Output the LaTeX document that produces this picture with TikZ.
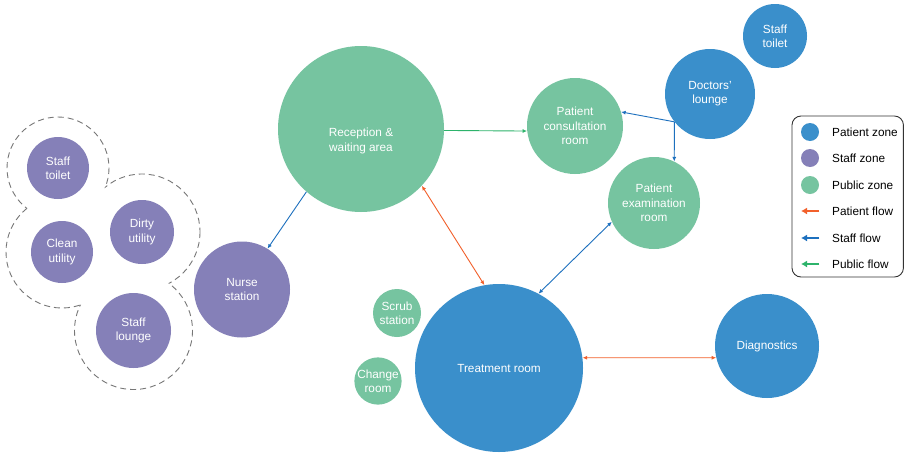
\documentclass[tikz,border=0pt]{standalone}
\usepackage{fontspec}
\setmainfont{Liberation Sans}
\usetikzlibrary{arrows.meta}
\definecolor{pzone}{HTML}{3A8FCB}
\definecolor{szone}{HTML}{8580B8}
\definecolor{uzone}{HTML}{76C4A0}
\definecolor{pflow}{HTML}{F2602B}
\definecolor{sflow}{HTML}{1D70BE}
\definecolor{uflow}{HTML}{2DB36B}
\definecolor{dashgray}{HTML}{777777}
\tikzset{
  room/.style={circle, inner sep=0pt, text=white, align=center, font=\fontsize{11.8}{14.3}\selectfont},
  pat/.style={room, fill=pzone},
  stf/.style={room, fill=szone},
  pub/.style={room, fill=uzone},
  flow/.style={line width=0.9pt},
  patflow/.style={flow, draw=pflow, {Latex[length=4.5pt,width=4pt]}-{Latex[length=4.5pt,width=4pt]}},
  staflow/.style={flow, draw=sflow, -{Latex[length=4.5pt,width=4pt]}},
  staflowb/.style={flow, draw=sflow, {Latex[length=4.5pt,width=4pt]}-{Latex[length=4.5pt,width=4pt]}},
  pubflow/.style={flow, draw=uflow, -{Latex[length=4.5pt,width=4pt]}},
  zoneline/.style={draw=dashgray, line width=0.9pt, dash pattern=on 6pt off 4pt},
  legtext/.style={anchor=west, inner sep=0pt, font=\fontsize{11.8}{14}\selectfont},
  legdot/.style={circle, inner sep=0pt, minimum size=18pt},
  legarrow/.style={line width=2pt, -{Latex[length=6pt,width=7pt]}},
}
\begin{document}
\begin{tikzpicture}[x=1pt,y=-1pt]
\useasboundingbox (0,0) rectangle (904,453);
\fill[white] (0,0) rectangle (904,453);

% dashed staff zone outline (union of four circles)
\begin{scope}[even odd rule]
  \clip (-10,-10) rectangle (920,470) (62,252) circle (56);
  \clip (-10,-10) rectangle (920,470) (142,232) circle (58);
  \clip (-10,-10) rectangle (920,470) (133.5,330.5) circle (59);
  \draw[zoneline] (58,168) circle (51);
\end{scope}
\begin{scope}[even odd rule]
  \clip (-10,-10) rectangle (920,470) (58,168) circle (51);
  \clip (-10,-10) rectangle (920,470) (142,232) circle (58);
  \clip (-10,-10) rectangle (920,470) (133.5,330.5) circle (59);
  \draw[zoneline] (62,252) circle (56);
\end{scope}
\begin{scope}[even odd rule]
  \clip (-10,-10) rectangle (920,470) (58,168) circle (51);
  \clip (-10,-10) rectangle (920,470) (62,252) circle (56);
  \clip (-10,-10) rectangle (920,470) (133.5,330.5) circle (59);
  \draw[zoneline] (142,232) circle (58);
\end{scope}
\begin{scope}[even odd rule]
  \clip (-10,-10) rectangle (920,470) (58,168) circle (51);
  \clip (-10,-10) rectangle (920,470) (62,252) circle (56);
  \clip (-10,-10) rectangle (920,470) (142,232) circle (58);
  \draw[zoneline] (133.5,330.5) circle (59);
\end{scope}

% rooms
\node[pub, minimum size=166pt] (rec) at (361,129) {};
\node[room] (rectext) at (361,141) {Reception \&\\waiting area};
\node[pub, minimum size=96pt] (pcr) at (575,126) {Patient\\consultation\\room};
\node[pat, minimum size=90pt] (dl) at (710,94) {Doctors'\\lounge};
\node[pat, minimum size=64pt] (st1) at (775,36) {Staff\\toilet};
\node[pub, minimum size=92pt] (pe) at (654,203) {Patient\\examination\\room};
\node[pat, minimum size=168pt] (tr) at (499,368) {Treatment room};
\node[pub, minimum size=48pt] (ss) at (397,313) {Scrub\\station};
\node[pub, minimum size=47pt] (cr) at (378,381) {Change\\room};
\node[pat, minimum size=104pt] (dg) at (767,346) {Diagnostics};
\node[stf, minimum size=96pt] (ns) at (242,289.5) {Nurse\\station};
\node[stf, minimum size=62pt] (st2) at (58,168) {Staff\\toilet};
\node[stf, minimum size=62pt] (cu) at (62,252) {Clean\\utility};
\node[stf, minimum size=64pt] (du) at (142,232) {Dirty\\utility};
\node[stf, minimum size=75pt] (sl) at (133.5,330.5) {Staff\\lounge};

% flows
\draw[pubflow] (rec.-1.4) -- (pcr.186);
\draw[staflow] (rec.229) -- (ns.58);
\draw[patflow] (rec.-43) -- (tr.100);
\draw[staflowb] (tr.62) -- (pe.204);
\draw[staflow] (dl.218) -- (pcr.17);
\draw[staflow] (dl.218) -- (pe.64.5);
\draw[patflow] (tr.7) -- (dg.193);

% legend
\draw[draw=black!80, line width=0.9pt, rounded corners=9pt] (792,116) rectangle (903.4,277);
\node[legdot, fill=pzone] (lg1) at (810,132) {};
\node[legdot, fill=szone] (lg2) at (810,158) {};
\node[legdot, fill=uzone] (lg3) at (810,185) {};
\coordinate (la1s) at (819,211); \coordinate (la1e) at (801,211);
\coordinate (la2s) at (819,238); \coordinate (la2e) at (801,238);
\coordinate (la3s) at (819,264); \coordinate (la3e) at (801,264);
\draw[legarrow, draw=pflow, fill=pflow] (la1s) -- (la1e);
\draw[legarrow, draw=sflow, fill=sflow] (la2s) -- (la2e);
\draw[legarrow, draw=uflow, fill=uflow] (la3s) -- (la3e);
\node[legtext] (lt1) at (832,132) {Patient zone};
\node[legtext] (lt2) at (832,158) {Staff zone};
\node[legtext] (lt3) at (832,185) {Public zone};
\node[legtext] (lt4) at (832,211) {Patient flow};
\node[legtext] (lt5) at (832,238) {Staff flow};
\node[legtext] (lt6) at (832,264) {Public flow};
\end{tikzpicture}
\end{document}
